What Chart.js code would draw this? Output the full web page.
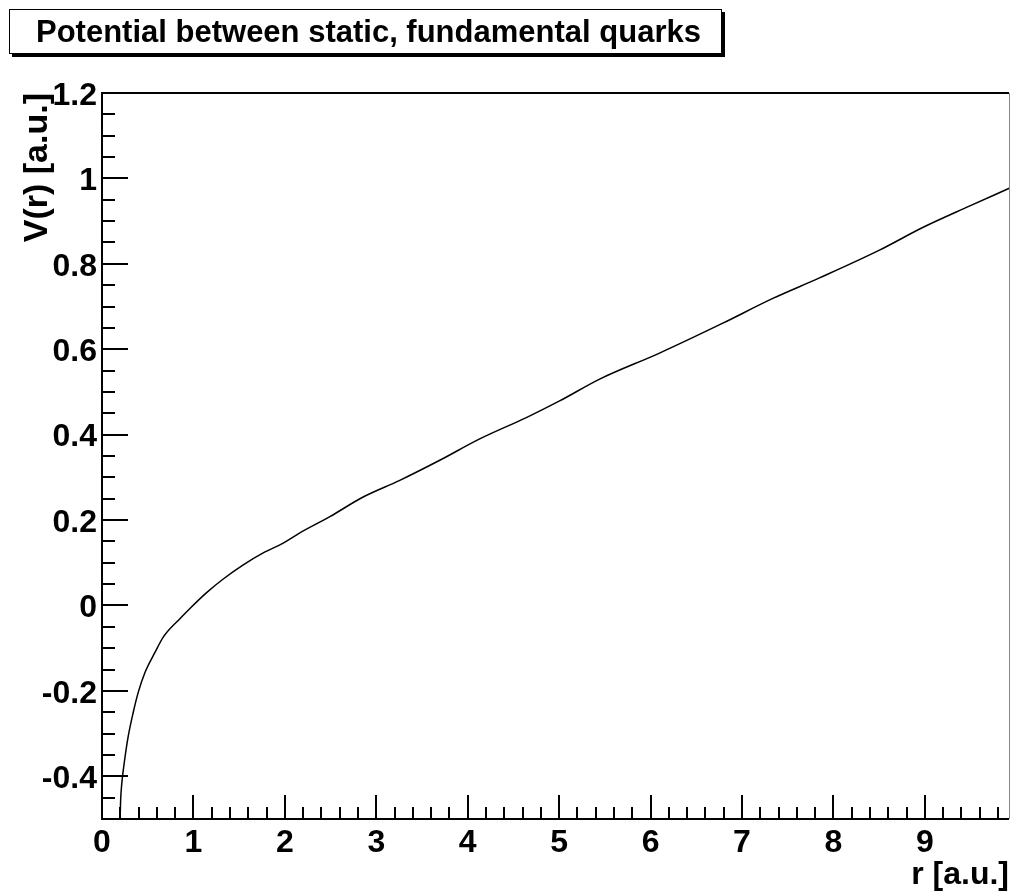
<!DOCTYPE html>
<html>
<head>
<meta charset="utf-8">
<title>Potential between static, fundamental quarks</title>
<script src="https://cdn.jsdelivr.net/npm/chart.js@4.4.1/dist/chart.umd.min.js"></script>
<style>
  body { margin: 0; background: #fff; }
  #wrap { position: relative; width: 1011px; height: 894px; }
  #stage { position: absolute; left: 0; top: 0; }
  #plotTitle {
    position: absolute; left: 9px; top: 9px; width: 713px; height: 45px;
    box-sizing: border-box; border: 1.5px solid #000; box-shadow: 3px 3px 0 #000;
    background: #fff; overflow: hidden;
  }
  #plotTitle span {
    position: absolute; left: 26px; top: 6px; white-space: nowrap;
    font: bold 31px "Liberation Sans", Arial, sans-serif; line-height: 31px;
    color: #000;
  }
</style>
</head>
<body>
<div id="wrap">
  <canvas id="stage" width="1011" height="894"></canvas>
  <div id="plotTitle"><span>Potential between static, fundamental quarks</span></div>
</div>
<script>
// 読み取った曲線の値 (r, V)
const rValues = [0.195, 0.204, 0.215, 0.24, 0.288, 0.342, 0.397, 0.47, 0.579, 0.67, 0.852, 0.962,
  1.144, 1.326, 1.545, 1.763, 1.982, 2.164, 2.492, 2.856, 3.257, 3.694, 4.131, 4.641, 5.005,
  5.443, 6.098, 6.79, 7.337, 7.847, 8.503, 8.976, 9.486, 9.923];
const vValues = [-0.52, -0.455, -0.42, -0.374, -0.305, -0.25, -0.203, -0.157, -0.11, -0.074, -0.031, -0.007,
  0.03, 0.062, 0.095, 0.123, 0.146, 0.17, 0.208, 0.254, 0.293, 0.34, 0.39, 0.44, 0.479,
  0.53, 0.591, 0.661, 0.719, 0.767, 0.832, 0.885, 0.935, 0.977];

const xTicks = [0, 1, 2, 3, 4, 5, 6, 7, 8, 9];
const yTicks = [-0.4, -0.2, 0, 0.2, 0.4, 0.6, 0.8, 1, 1.2];
const xRange = [0, 9.92];
const yRange = [-0.5, 1.2];

Chart.defaults.font.family = '"Liberation Sans", Arial, sans-serif';
Chart.defaults.color = '#000';

// ROOT風の枠と内向きの目盛り
const rootFrame = {
  id: 'rootFrame',
  afterDatasetsDraw(chart) {
    const { ctx, chartArea: a, scales: { x, y } } = chart;
    ctx.save();
    ctx.strokeStyle = '#000';
    ctx.lineWidth = 2;
    ctx.beginPath();
    for (let i = 0; i * 0.2 <= x.max + 1e-9; i++) {
      const px = Math.round(x.getPixelForValue(i * 0.2));
      const len = i % 5 === 0 ? 24 : 12;
      ctx.moveTo(px, a.bottom);
      ctx.lineTo(px, a.bottom - len);
    }
    for (let i = 0; y.min + i * 0.05 <= y.max + 1e-9; i++) {
      const py = Math.round(y.getPixelForValue(y.min + i * 0.05));
      const len = (i % 4 === 2) ? 26 : 13;
      ctx.moveTo(a.left, py);
      ctx.lineTo(a.left + len, py);
    }
    ctx.stroke();
    // 枠
    ctx.beginPath();
    ctx.moveTo(a.right, a.top);
    ctx.lineTo(a.left, a.top);
    ctx.lineTo(a.left, a.bottom);
    ctx.lineTo(a.right, a.bottom);
    ctx.stroke();
    ctx.strokeStyle = '#888';
    ctx.lineWidth = 1;
    ctx.beginPath();
    ctx.moveTo(a.right + 0.5, a.top);
    ctx.lineTo(a.right + 0.5, a.bottom);
    ctx.stroke();
    ctx.restore();
  }
};

new Chart(document.getElementById('stage'), {
  type: 'scatter',
  data: {
    datasets: [{
      data: rValues.map((r, i) => ({ x: r, y: vValues[i] })),
      showLine: true,
      borderColor: '#000',
      borderWidth: 1.5,
      pointRadius: 0,
      cubicInterpolationMode: 'monotone',
    }]
  },
  options: {
    responsive: false,
    animation: false,
    layout: { padding: { top: 93, right: 2, left: 0, bottom: 0 } },
    plugins: { legend: { display: false }, tooltip: { enabled: false } },
    scales: {
      x: {
        type: 'linear',
        min: xRange[0],
        max: xRange[1],
        afterBuildTicks: s => { s.ticks = xTicks.map(v => ({ value: v })); },
        afterFit: s => { s.height = 75; },
        grid: { display: false, drawTicks: false },
        border: { display: false },
        ticks: { padding: 5, maxRotation: 0, autoSkip: false, font: { size: 32, weight: 'bold' } },
        title: { display: true, text: 'r [a.u.]', align: 'end', font: { size: 32, weight: 'bold' }, padding: { top: 0, bottom: 0 } }
      },
      y: {
        type: 'linear',
        min: yRange[0],
        max: yRange[1],
        afterBuildTicks: s => { s.ticks = yTicks.map(v => ({ value: v })); },
        afterFit: s => { s.width = 102; },
        grid: { display: false, drawTicks: false },
        border: { display: false },
        ticks: {
          padding: 5, labelOffset: 3, autoSkip: false,
          font: { size: 32, weight: 'bold' },
          callback: v => String(+v.toFixed(1))
        },
        title: { display: true, text: 'V(r) [a.u.]', align: 'end', font: { size: 34, weight: 'bold' }, padding: { top: 17, bottom: 0 } }
      }
    }
  },
  plugins: [rootFrame]
});
</script>
</body>
</html>
